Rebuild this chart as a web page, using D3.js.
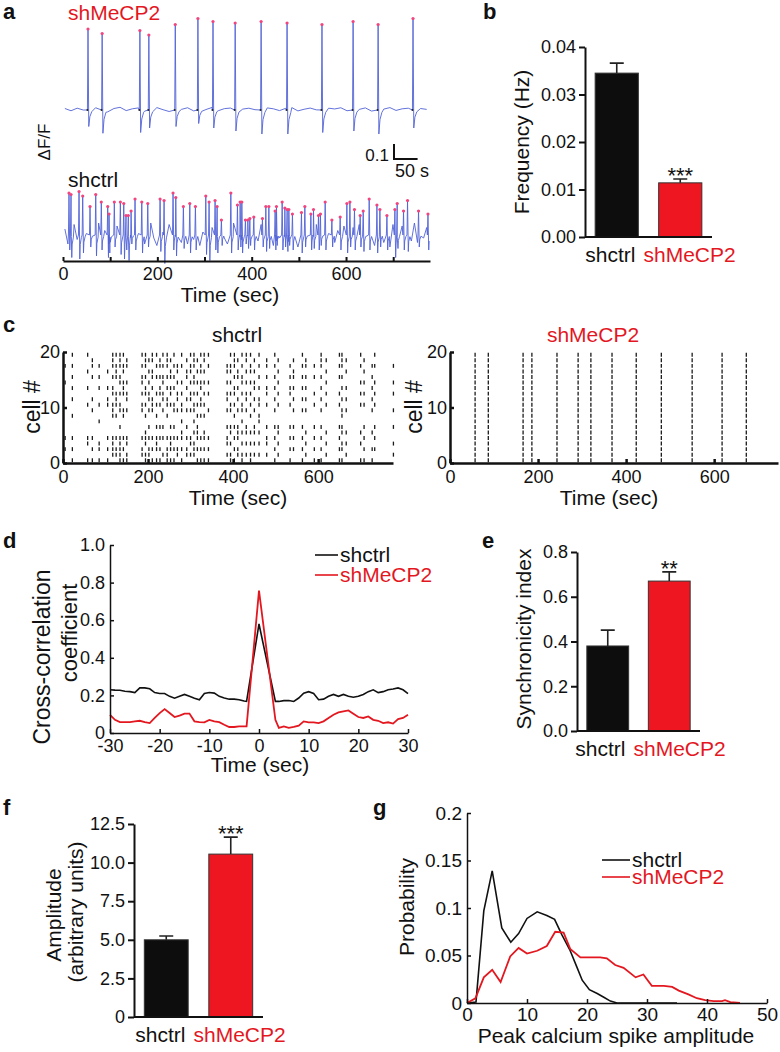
<!DOCTYPE html>
<html>
<head>
<meta charset="utf-8">
<script src="https://cdn.jsdelivr.net/npm/d3@7"></script>
<style>
body { margin: 0; background: #fff; }
svg { font-family: Arial, "Liberation Sans", Helvetica, sans-serif; }
</style>
</head>
<body>
<div id="paper"></div>
<script>
// ---- a: calcium traces, spikes as [time (s), peak dF/F, dip dF/F]
var mecpSpikes = [[53,0.54,-0.11],[83,0.51,-0.155],[163,0.53,-0.15],[182,0.50,-0.12],[238,0.57,-0.11],
  [286,0.61,-0.09],[318,0.59,-0.12],[365,0.58,-0.14],[420,0.59,-0.16],[475,0.58,-0.16],[549,0.57,-0.15],
  [615,0.59,-0.14],[668,0.57,-0.16],[742,0.61,-0.12]];
var mecpNoise = [0.01,-0.005,0.012,0,-0.01,0.015,0.005,-0.012,0.01,0.018,-0.004,0.008,0.014,-0.008,0.006,
  0.016,0.002,-0.01,0.012,0.004,0.015,-0.006,0.01,0.003,0.017,-0.005,0.009,0.013,-0.009,0.006,0.012,0.002,
  -0.007,0.014,0.008,-0.004,0.011,0.016,-0.006,0.005,0.013,0.001,-0.008,0.012,0.007,0.015,-0.005,0.009,
  0.004,0.014,-0.007,0.01,0.006,0.016,-0.003,0.008,0.012,-0.006,0.01,0.004];
var ctrlSpikes = [[12.7,0.28,-0.1],[17,0.27,-0.15],[34,0.29,-0.16],[41.8,0.26,-0.12],[57.3,0.19,-0.08],
  [69.4,0.27,-0.14],[81.2,0.22,-0.1],[94.8,0.19,-0.15],[97.6,0.14,-0.12],[108.8,0.22,-0.08],[121.6,0.22,-0.13],
  [128.8,0.21,-0.16],[133.6,0.13,-0.1],[138.5,0.13,-0.17],[144.3,0.16,-0.06],[152.7,0.24,-0.1],[167,0.22,-0.12],
  [179.7,0.21,-0.08],[205.8,0.24,-0.11],[214.3,0.23,-0.19],[233.3,0.28,-0.1],[239.1,0.25,-0.14],[255.2,0.19,-0.09],
  [268.8,0.21,-0.12],[280.7,0.19,-0.1],[302.7,0.26,-0.13],[309.7,0.22,-0.17],[322.4,0.23,-0.1],[326.7,0.19,-0.12],
  [335.8,0.10,-0.07],[355.8,0.28,-0.12],[369.8,0.2,-0.1],[375.5,0.22,-0.08],[379.1,0.22,-0.12],[386.7,0.1,-0.06],
  [391.8,0.1,-0.09],[396.1,0.11,-0.07],[404.5,0.12,-0.1],[422.8,0.11,-0.08],[430,0.19,-0.11],[436.4,0.19,-0.09],
  [449.7,0.16,-0.1],[452.5,0.19,-0.07],[464.6,0.22,-0.1],[470.3,0.18,-0.08],[475.2,0.17,-0.11],[478.8,0.17,-0.07],
  [486.4,0.14,-0.1],[505.5,0.15,-0.12],[512.7,0.19,-0.08],[525.5,0.14,-0.1],[531,0.17,-0.09],[541.6,0.13,-0.1],
  [545.8,0.14,-0.07],[555.8,0.22,-0.1],[570,0.1,-0.08],[587.6,0.12,-0.1],[601.8,0.21,-0.12],[608.2,0.22,-0.08],
  [617.9,0.17,-0.1],[630,0.13,-0.08],[636.4,0.16,-0.11],[649.1,0.24,-0.1],[665.5,0.2,-0.12],[671.8,0.17,-0.08],
  [686.7,0.13,-0.1],[703.6,0.17,-0.15],[708.5,0.21,-0.09],[721.9,0.16,-0.1],[730.4,0.23,-0.11],[753.7,0.16,-0.08],
  [773.7,0.14,-0.1]];
var ctrlNoise = [0.04,-0.06,0.02,0.07,-0.03,-0.08,0.05,0.01,-0.05,0.06,-0.02,0.08,-0.07,0.03,0.05,-0.04,-0.09,0.06,0.02,-0.05,
  0.07,-0.03,0.04,-0.08,0.01,0.06,-0.06,0.03,0.08,-0.02,-0.07,0.05,0.02,-0.04,0.07,-0.08,0.03,0.06,-0.05,0.01,
  -0.06,0.08,-0.03,0.04,-0.07,0.02,0.06,-0.04,0.05,-0.09,0.03,0.07,-0.02,-0.06,0.04,0.08,-0.05,0.01,-0.03,0.06,
  -0.08,0.02,0.05,-0.04,0.07,-0.06,0.03,0.01,-0.07,0.06,-0.02,0.04,-0.05,0.08,-0.03,0.02,-0.08,0.05,0.06,-0.04,
  0.03,-0.07,0.07,-0.02,0.04,-0.06,0.01,0.08,-0.05,0.03,-0.04,0.06,-0.08,0.02,0.05,-0.03,0.07,-0.06,0.04,-0.02,
  0.06,-0.07,0.03,0.05,-0.05,0.01,-0.08,0.07,-0.03,0.04,0.06,-0.06,0.02,-0.04,0.08,-0.05,0.03,-0.02,0.05,-0.07];
var traceTicks = [0,100,200,300,400,500,600,700];

// ---- b, e, f: bar charts
var groups = ["shctrl", "shMeCP2"];
var freqMean = [0.0345, 0.0114], freqSem = [0.0021, 0.0008];
var freqTicks = [0, 0.01, 0.02, 0.03, 0.04];
var syncMean = [0.38, 0.67], syncSem = [0.071, 0.041];
var syncTicks = [0, 0.2, 0.4, 0.6, 0.8];
var ampMean = [5.0, 10.55], ampSem = [0.25, 1.1];
var ampTicks = [0, 2.5, 5, 7.5, 10, 12.5];

// ---- c: raster, [time, cells 20..1 ("|" = spike)]
var ctrlEvents = [
  [5,"..|.. |.... ..... |.|.."],[22,"|.|.| .|.|. .|... |.|.|"],[58,"|..|. .|..| ..... ||..|"],
  [69,".||.| ...|. |.... |.|.|"],[85,"..|.| .|..| ..|.. .||.|"],[105,"...|. .|.|| ..... |.|.|"],
  [117,"|||.| .||.| ||... ||||."],[125,"|.||| ..||| .|... |.||."],[134,"|||.| |.|.| |..|. |||||"],
  [142,"|.||. |||.. ||... |.|.|"],[150,".||.. |.||. |.... ||.||"],[186,"|.|.| |.|.| |.... |.||."],
  [194,"|||.| .||.| .|..| ||.||"],[202,".|.|. |.||. |..|. |.||."],[210,"||.|| .|.|| |.... |.|.|"],
  [220,"|.|.| ..|.| .|.|. |||.|"],[228,".||.| .||.| ...|. |.|.|"],[235,"|.|.| |.||. |..|. |..|."],
  [245,"|||.| .|.|| .|... |.|||"],[253,".|.|| .||.| ...|. |||.|"],[261,"|.|.| .|..| |..|. |.|.|"],
  [269,"..||. |.||. |.... |.||."],[279,"|.|.. |.|.| |.|.| |.|.|"],[291,".|.|| .|.|. |..|. |.||."],
  [300,"|.||. |.||. |.... ||.|."],[308,"|||.| |.|.| |.|.| .|||."],[316,".|.|. |.|.| .|.|| |.|.|"],
  [324,"|.||. ||.|| .|... |.|.|"],[332,"||.|. |.|.| .|..| |.|.|"],[342,"|.|.. |.|.. |.... |.|.|"],
  [386,"..||. |.||. |..|. ||.|."],[394,"|.||. |.|.| |..|| .|.||"],[403,"|||.| .||.| .|.|. |.|.|"],
  [411,".|.|| .|.|. |..|| |.||."],[421,"|.|.| |.|.| |.|.| .|.||"],[431,"||.|. |.||. |..|| .|.|."],
  [441,"|.||. |.|.| .|..| .|.||"],[450,".|.|. ||.|. |..|| .|.|."],[461,"|.|.| .|.|| .||.| .|.|."],
  [479,".||.| .||.| ...|. ||.|."],[498,"|.|.| .|.|. |..|. |.|.|"],[506,".|.|. |.|.| ...|| .|.|."],
  [534,"..|.| .||.| ...|. |.|.|"],[542,".|.|| .|.|. |..|. |.|.."],[563,"|.|.| .|.|. |..|. |.|.|"],
  [571,".||.| .|.|. |...| .|.|."],[591,"..|.| ..|.| ...|. |.|.|"],[607,"|||.| .|.|. |..|. |.|.|"],
  [619,".|.|. |.|.| ....| .|.|."],[650,"|.|.| ..|.| ...|. |.|.|"],[656,"|||.| .|.|. ||.|| .||.|"],
  [666,".|.|. .|.|. |...| .|.|."],[700,"|.|.. |.|.| ....| .|..|"],[708,".|.|. |.|.| ...|. |.|.|"],
  [727,"..|.| .|.|. |...| ..|.|"],[733,"|.|.. |.|.| ...|. |.|.."],[777,"..|.. |.|.. |..|. .|.|."]];
var mecpEvents = [57, 87, 166, 186, 243, 291, 320, 368, 423, 480, 550, 618, 673];
var rasterTicks = [0, 200, 400, 600];

// ---- d: cross-correlation
var ccLag = [-30,-29,-28,-27,-26,-25,-24,-23,-22,-21,-20,-19,-18,-17,-16,-15,-14,-13,-12,-11,-10,-9,-8,-7,
  -6,-5,-4,-3,-2.5,0,3.3,4,5,6,7,8,9,10,11,12,13,14,15,16,17,18,19,20,21,22,23,24,25,26,27,28,29,30];
var ccCtrl = [0.23,0.228,0.227,0.222,0.22,0.215,0.24,0.24,0.235,0.215,0.21,0.21,0.195,0.185,0.195,0.205,
  0.195,0.185,0.177,0.21,0.215,0.212,0.195,0.186,0.18,0.18,0.177,0.17,0.168,0.58,0.168,0.168,0.172,0.173,
  0.168,0.186,0.212,0.22,0.21,0.177,0.18,0.195,0.205,0.195,0.205,0.195,0.19,0.195,0.205,0.22,0.23,0.215,
  0.22,0.23,0.234,0.24,0.23,0.21];
var ccMecp = [0.097,0.07,0.058,0.058,0.058,0.062,0.065,0.058,0.053,0.08,0.106,0.127,0.106,0.085,0.092,0.103,
  0.103,0.062,0.058,0.057,0.07,0.062,0.058,0.044,0.032,0.032,0.035,0.035,0.035,0.757,0.07,0.027,0.035,0.027,
  0.032,0.039,0.062,0.057,0.057,0.053,0.062,0.08,0.097,0.11,0.115,0.12,0.103,0.085,0.08,0.088,0.07,0.065,
  0.053,0.057,0.05,0.074,0.08,0.097];

// ---- g: amplitude distribution
var gCtrlX = [0,1.5,2.8,4.2,5.8,7.3,8.6,10,11.7,13.3,14.6,15.8,17.2,18.3,19.2,20.4,21.7,22.8,23.9,25,30,35];
var gCtrlY = [0,0.001,0.097,0.139,0.079,0.064,0.073,0.089,0.096,0.092,0.088,0.072,0.055,0.038,0.024,0.014,
  0.01,0.006,0.002,0,0,0];
var gMecpX = [0,1.4,2.8,4.2,5.6,7.2,8.6,10,11.7,13.3,14.7,16.1,17.2,18.9,20.3,22.2,23.3,24.7,26.1,28.1,29.4,
  30.8,32.8,34.2,35.3,36.9,38.3,39.7,41.1,42.5,43,43.9,45.5];
var gMecpY = [0,0.005,0.027,0.035,0.022,0.049,0.058,0.052,0.055,0.06,0.075,0.074,0.057,0.048,0.048,0.048,
  0.047,0.04,0.037,0.027,0.03,0.018,0.018,0.017,0.013,0.009,0.005,0.003,0.002,0.002,0.003,0.001,0];

var width = 780, height = 1052;
var red = "#e3171f", redBar = "#ee1620", blue = "#5062d6", ink = "#111";

var svg = d3.select("#paper").append("svg")
    .attr("width", width)
    .attr("height", height);
svg.append("rect").attr("width", width).attr("height", height).attr("fill", "#fff");

function text(x, y, s, o) {
  o = o || {};
  var t = svg.append("text").attr("x", x).attr("y", y).text(s)
    .attr("font-size", o.size || 21)
    .attr("fill", o.color || ink)
    .attr("text-anchor", o.anchor || "start");
  if (o.bold) t.attr("font-weight", "bold");
  return t;
}
// vertical label, x = baseline position, y = centre
function vtext(x, y, s, o) {
  o = o || {};
  return text(x, y, s, {size: o.size, color: o.color, anchor: "middle"})
    .attr("transform", "rotate(-90," + x + "," + y + ")");
}
function styleAxis(g, size, w) {
  g.attr("font-family", null).attr("font-size", null);
  g.select(".domain").attr("stroke", ink).attr("stroke-width", w);
  g.selectAll(".tick line").attr("stroke", ink).attr("stroke-width", w);
  g.selectAll(".tick text").attr("font-size", size).attr("fill", ink);
}
var plain = function(d){ return String(d); };

// panel letters
[["a",3,19],["b",483,19],["c",3,332],["d",3,548],["e",482,548],["f",3,815],["g",373,815]].forEach(function(p){
  text(p[1], p[2], p[0], {bold: true, size: 22});
});

// ================= a =================
var xTr = d3.scaleLinear().domain([0, 778]).range([63, 430]);
var yTop = d3.scaleLinear().domain([-0.2, 0.6]).range([140, 20]);
var yBot = d3.scaleLinear().domain([-0.2, 0.3]).range([265, 190]);

var tracePoints = function(spikes, noise, step, rec){
  var pts = [];
  spikes.forEach(function(s){
    pts.push([s[0] - 1.2, 0], [s[0], s[1]], [s[0] + 1.6, s[2]], [s[0] + rec, s[2] * 0.4], [s[0] + rec * 2, s[2] * 0.1]);
  });
  noise.forEach(function(v, i){
    var t = 4 + i * step;
    var near = spikes.some(function(s){ return t > s[0] - 2 && t < s[0] + rec * 2 + 0.5; });
    if (!near) pts.push([t, v]);
  });
  pts = pts.filter(function(p){ return p[0] >= 4 && p[0] <= 778; });
  pts.sort(function(a, b){ return a[0] - b[0]; });
  return pts;
};

var drawTrace = function(spikes, noise, step, rec, y, onsets){
  var pts = tracePoints(spikes, noise, step, rec);
  var line = d3.line().x(function(d){ return xTr(d[0]); }).y(function(d){ return y(d[1]); });
  svg.append("path").attr("d", line(pts)).attr("fill", "none")
    .attr("stroke", blue).attr("stroke-width", 0.9);
  if (onsets) {
    svg.selectAll(null).data(spikes).enter().append("circle")
      .attr("cx", function(d){ return xTr(d[0] - 1.2); }).attr("cy", y(0)).attr("r", 1).attr("fill", "#222");
  }
  svg.selectAll(null).data(spikes).enter().append("circle")
    .attr("cx", function(d){ return xTr(d[0]); }).attr("cy", function(d){ return y(d[1]); })
    .attr("r", 1.6).attr("fill", "#f0457e");
};
drawTrace(mecpSpikes, mecpNoise, 13, 4, yTop, true);
drawTrace(ctrlSpikes, ctrlNoise, 6.5, 2.5, yBot, false);

text(68, 20, "shMeCP2", {color: red});
text(68, 187, "shctrl");
vtext(50, 142, "ΔF/F", {size: 17});

// scale bar
var sbX = 394, sbY = 159;
svg.append("path")
  .attr("d", "M" + sbX + "," + (sbY - (yTop(0) - yTop(0.1))) + "V" + sbY + "H" + (sbX + xTr(50) - xTr(0)))
  .attr("fill", "none").attr("stroke", ink).attr("stroke-width", 2);
text(389, 161, "0.1", {anchor: "end", size: 17});
text(395, 177, "50 s", {size: 18});

var axA = svg.append("g").attr("transform", "translate(0,261)")
  .call(d3.axisBottom(xTr).tickValues(traceTicks).tickSizeInner(-4).tickSizeOuter(0).tickPadding(6)
    .tickFormat(function(d){ return d % 200 === 0 ? d : ""; }));
styleAxis(axA, 18, 2);
text(230, 302, "Time (sec)", {anchor: "middle"});

// ================= bars (b, e, f) =================
var barPanel = function(p){
  var y = d3.scaleLinear().domain(p.domain).range([p.bottom, p.top]);
  var x = d3.scaleBand().domain(groups).range([p.left, p.right]).paddingInner(0.32).paddingOuter(0.16);
  var g = svg.append("g");
  g.selectAll(null).data(groups).enter().append("rect")
    .attr("x", function(d){ return x(d); })
    .attr("width", x.bandwidth())
    .attr("y", function(d, i){ return y(p.mean[i]); })
    .attr("height", function(d, i){ return p.bottom - y(p.mean[i]); })
    .attr("fill", function(d, i){ return i ? redBar : "#0d0d0d"; })
    .attr("stroke", "#333").attr("stroke-width", 1);
  g.selectAll(null).data(groups).enter().append("path")
    .attr("d", function(d, i){
      var cx = x(d) + x.bandwidth() / 2, y0 = y(p.mean[i]), y1 = y(p.mean[i] + p.sem[i]);
      return "M" + cx + "," + y0 + "V" + y1 + "M" + (cx - 7) + "," + y1 + "H" + (cx + 7);
    })
    .attr("fill", "none").attr("stroke", "#222").attr("stroke-width", 1.6);
  var ax = g.append("g").attr("transform", "translate(" + p.left + ",0)")
    .call(d3.axisLeft(y).tickValues(p.ticks).tickFormat(p.format).tickSizeInner(6).tickSizeOuter(0).tickPadding(3));
  styleAxis(ax, 18, 2);
  g.append("line").attr("x1", p.left).attr("x2", p.right).attr("y1", p.bottom).attr("y2", p.bottom)
    .attr("stroke", ink).attr("stroke-width", 2);
  var mid = (x(groups[0]) + x.bandwidth() + x(groups[1])) / 2 - 9;
  text(mid - 4, p.bottom + 25, groups[0], {anchor: "end"});
  text(mid + 4, p.bottom + 25, groups[1], {color: red});
  text(x(groups[1]) + x.bandwidth() / 2, y(p.mean[1] + p.sem[1]) + 4, p.stars, {anchor: "middle", size: 22});
};

barPanel({domain: [0, 0.04], top: 47, bottom: 237, left: 585, right: 712, mean: freqMean, sem: freqSem,
  ticks: freqTicks, format: d3.format(".2f"), stars: "***"});
vtext(529, 142, "Frequency (Hz)");

barPanel({domain: [0, 0.8], top: 552, bottom: 731, left: 577, right: 700, mean: syncMean, sem: syncSem,
  ticks: syncTicks, format: d3.format(".1f"), stars: "**"});
vtext(531, 639, "Synchronicity index");

barPanel({domain: [0, 12.5], top: 824, bottom: 1017, left: 134, right: 263, mean: ampMean, sem: ampSem,
  ticks: ampTicks, format: function(d){ return d === 0 ? "0" : d.toFixed(1); }, stars: "***"});
vtext(61, 915, "Amplitude");
vtext(83, 912, "(arbitrary units)");

// ================= c: rasters =================
var raster = function(p){
  var x = d3.scaleLinear().domain([0, p.tmax]).range([p.left, p.right]);
  var y = d3.scaleLinear().domain([0, 20]).range([463, 352]);
  var spikes = [];
  p.events.forEach(function(e){
    var cells = e[1].replace(/ /g, "").split("");
    cells.forEach(function(c, i){ if (c === "|" && i < 20) spikes.push([e[0], 20 - i]); });
  });
  svg.append("g").selectAll("line").data(spikes).enter().append("line")
    .attr("x1", function(d){ return x(d[0]); }).attr("x2", function(d){ return x(d[0]); })
    .attr("y1", function(d){ return y(d[1] - 1) - 0.8; }).attr("y2", function(d){ return y(d[1]) + 0.8; })
    .attr("stroke", "#1a1a1a").attr("stroke-width", 1.3);
  var ay = svg.append("g").attr("transform", "translate(" + p.left + ",0)")
    .call(d3.axisLeft(y).tickValues([0, 10, 20]).tickSizeInner(-4).tickSizeOuter(0).tickPadding(3));
  styleAxis(ay, 18, 2.5);
  var ax = svg.append("g").attr("transform", "translate(0,463)")
    .call(d3.axisBottom(x).tickValues(rasterTicks).tickSizeInner(-4).tickSizeOuter(0).tickPadding(7));
  styleAxis(ax, 18, 2.5);
};
raster({left: 63, right: 393, tmax: 776, events: ctrlEvents});
var allCells = "||||| ||||| ||||| |||||";
raster({left: 450, right: 778, tmax: 745, events: mecpEvents.map(function(t){ return [t, allCells]; })});
text(237, 342, "shctrl", {anchor: "middle"});
text(593, 342, "shMeCP2", {anchor: "middle", color: red});
vtext(40, 407, "cell #", {size: 23});
vtext(422, 407, "cell #", {size: 23});
text(238, 505, "Time (sec)", {anchor: "middle"});
text(609, 505, "Time (sec)", {anchor: "middle"});

// ================= d: cross-correlation =================
var xD = d3.scaleLinear().domain([-30, 30]).range([110, 408]);
var yD = d3.scaleLinear().domain([0, 1]).range([733, 545]);
var lineD = d3.line().x(function(d, i){ return xD(ccLag[i]); }).y(function(d){ return yD(d); });
svg.append("path").attr("d", lineD(ccCtrl)).attr("fill", "none").attr("stroke", ink).attr("stroke-width", 1.6);
svg.append("path").attr("d", lineD(ccMecp)).attr("fill", "none").attr("stroke", red).attr("stroke-width", 1.8);
var adY = svg.append("g").attr("transform", "translate(110,0)")
  .call(d3.axisLeft(yD).tickValues([0, 0.2, 0.4, 0.6, 0.8, 1]).tickSizeInner(-4).tickSizeOuter(0).tickPadding(5)
    .tickFormat(function(d){ return d === 0 ? "0" : d.toFixed(1); }));
styleAxis(adY, 18, 1.5);
var adX = svg.append("g").attr("transform", "translate(0,733)")
  .call(d3.axisBottom(xD).tickValues([-30, -20, -10, 0, 10, 20, 30]).tickSizeInner(-4).tickSizeOuter(0).tickPadding(6)
    .tickFormat(plain));
styleAxis(adX, 18, 1.5);
text(260, 772, "Time (sec)", {anchor: "middle"});
vtext(50, 657, "Cross-correlation", {size: 23});
vtext(77, 633, "coefficient", {size: 22});
[["shctrl", ink, 555], ["shMeCP2", red, 575]].forEach(function(l){
  svg.append("line").attr("x1", 315).attr("x2", 338).attr("y1", l[2]).attr("y2", l[2])
    .attr("stroke", l[1]).attr("stroke-width", 1.6);
  text(340, l[2] + 7, l[0], {color: l[1]});
});

// ================= g: distribution =================
var xG = d3.scaleLinear().domain([0, 50]).range([467, 767]);
var yG = d3.scaleLinear().domain([0, 0.2]).range([1003, 813]);
var lineG = function(xs, ys){
  return d3.line().x(function(d, i){ return xG(xs[i]); }).y(function(d){ return yG(d); })(ys);
};
svg.append("path").attr("d", lineG(gCtrlX, gCtrlY)).attr("fill", "none").attr("stroke", ink).attr("stroke-width", 1.6);
svg.append("path").attr("d", lineG(gMecpX, gMecpY)).attr("fill", "none").attr("stroke", red).attr("stroke-width", 1.8);
var agY = svg.append("g").attr("transform", "translate(467,0)")
  .call(d3.axisLeft(yG).tickValues([0, 0.05, 0.1, 0.15, 0.2]).tickSizeInner(-4).tickSizeOuter(0).tickPadding(5)
    .tickFormat(plain));
styleAxis(agY, 19, 1.5);
var agX = svg.append("g").attr("transform", "translate(0,1003)")
  .call(d3.axisBottom(xG).tickValues([0, 10, 20, 30, 40, 50]).tickSizeInner(-4).tickSizeOuter(0).tickPadding(5));
styleAxis(agX, 19, 1.5);
text(616, 1043, "Peak calcium spike amplitude", {anchor: "middle"});
vtext(414, 907, "Probability");
[["shctrl", ink, 860], ["shMeCP2", red, 877]].forEach(function(l){
  svg.append("line").attr("x1", 602).attr("x2", 630).attr("y1", l[2]).attr("y2", l[2])
    .attr("stroke", l[1]).attr("stroke-width", 1.6);
  text(632, l[2] + 7, l[0], {color: l[1]});
});
</script>
</body>
</html>
